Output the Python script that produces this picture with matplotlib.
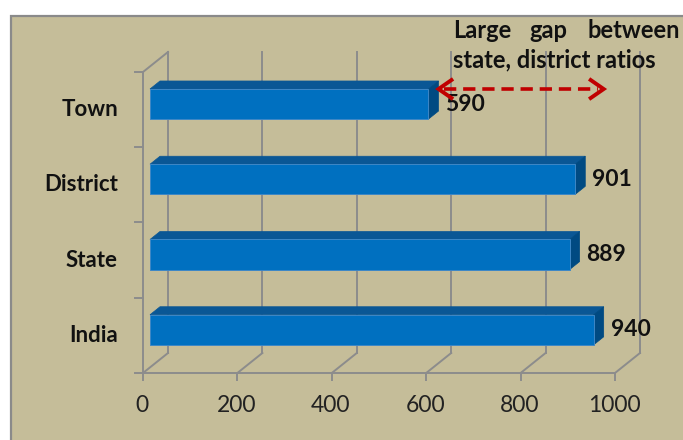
import matplotlib
matplotlib.use("Agg")
import matplotlib.pyplot as plt
import numpy as np
from matplotlib.patches import Polygon, Rectangle
from matplotlib.lines import Line2D
from matplotlib.transforms import IdentityTransform

# Sex ratio (females per 1000 males)
categories = ["India", "State", "District", "Town"]
values = [940, 889, 901, 590]
x_ticks = [0, 200, 400, 600, 800, 1000]
note_words = ["Large", "gap", "between"]
note_line2 = "state, district ratios"

W, H, DPI = 683, 440, 100
BG = "#c5bd99"
GRID = "#8c8c8c"
FRONT = "#0070c0"
TOP = "#0a5795"
SIDE = "#004a82"
FONT = ["Lato", "DejaVu Sans"]

fig = plt.figure(figsize=(W / DPI, H / DPI), dpi=DPI)
fig.patch.set_facecolor("white")
fig.add_artist(Rectangle((11 / W, -0.1), 1.2, 1.1 - 16 / H,
                         transform=fig.transFigure, facecolor=BG,
                         edgecolor="#8a8a8a", lw=1.6, zorder=0))

# front plane of the 3-D box
ax = fig.add_axes([143 / W, (H - 373) / H, 472 / W, 301 / H])
ax.set_xlim(0, 1000)
ax.set_ylim(-0.5, 3.5)
ax.axis("off")
ax.patch.set_visible(False)

DEPTH = np.array([25.0, 20.0])   # full depth of the box in pixels
F1, F2 = 0.28, 0.68              # front / back depth of the bars
HALF = 0.2                       # half bar thickness in category units


def P(x, y, f=0.0):
    return ax.transData.transform((x, y)) + f * DEPTH


def seg(p, q, **kw):
    fig.add_artist(Line2D([p[0], q[0]], [p[1], q[1]], transform=IdentityTransform(), **kw))


def poly(pts, **kw):
    fig.add_artist(Polygon(np.array(pts), closed=True, transform=IdentityTransform(), **kw))


gkw = dict(color=GRID, lw=1.4, zorder=1)
# back-wall gridlines and floor diagonals
for t in x_ticks:
    seg(P(t, -0.5, 1), P(t, 3.5, 1), **gkw)
    seg(P(t, -0.5, 0), P(t, -0.5, 1), **gkw)
    seg(P(t, -0.5, 0), P(t, -0.5, 0) + [0, -7], **gkw)
# front floor edge, left wall
seg(P(0, -0.5, 0), P(1000, -0.5, 0), **gkw)
seg(P(0, -0.5, 0), P(0, 3.5, 0), **gkw)
seg(P(0, 3.5, 0), P(0, 3.5, 1), **gkw)
for b in np.arange(-0.5, 4.0, 1.0):
    seg(P(0, b, 0), P(0, b, 0) + [-8, 0], **gkw)

# 3-D bars
for i, v in enumerate(values):
    lo, hi = i - HALF, i + HALF
    poly([P(0, hi, F1), P(v, hi, F1), P(v, hi, F2), P(0, hi, F2)],
         facecolor=TOP, edgecolor=TOP, lw=0.5, zorder=3)
    poly([P(v, lo, F1), P(v, lo, F2), P(v, hi, F2), P(v, hi, F1)],
         facecolor=SIDE, edgecolor=SIDE, lw=0.5, zorder=3)
    poly([P(0, lo, F1), P(v, lo, F1), P(v, hi, F1), P(0, hi, F1)],
         facecolor=FRONT, edgecolor="#3d87c6", lw=0.7, zorder=4)
    lx, ly = P(v, i, F1) + [17, 0]
    fig.text(lx / W, ly / H, str(v), ha="left", va="center", fontsize=16.5,
             fontweight="bold", family=FONT, color="#111111")

# category labels
for i, c in enumerate(categories):
    cx, cy = P(0, i, 0) + [-25, 0]
    fig.text(cx / W, cy / H, c, ha="right", va="center", fontsize=16,
             fontweight="bold", family=FONT, color="#111111")

# value axis labels
for t in x_ticks:
    tx, ty = P(t, -0.5, 0) + [-1, -33]
    fig.text(tx / W, ty / H, str(t), ha="center", va="center", fontsize=16.5,
             family=FONT, color="#222222")

# gap arrow between the town and national ratios
town = categories.index("Town")
india = categories.index("India")
a = P(values[town], town, F2) + [0, 7]
b = P(values[india], town, F2) + [0, 7]
RED = "#c00000"
fig.add_artist(Line2D([a[0] + 6, b[0] - 6], [a[1], a[1]], transform=IdentityTransform(),
                      color=RED, lw=2.6, linestyle=(0, (3.4, 1.9)), zorder=6))
for tip, s in ((a, 1), (b, -1)):
    fig.add_artist(Line2D([tip[0] + s * 13, tip[0], tip[0] + s * 13],
                          [tip[1] + 9, tip[1], tip[1] - 9], transform=IdentityTransform(),
                          color=RED, lw=2.8, solid_joinstyle="miter", zorder=6))

# note text
y1 = (H - 31) / H
fig.text(453 / W, y1, note_words[0], ha="left", va="center", fontsize=17,
         fontweight="bold", family=FONT, color="#111111")
fig.text(548 / W, y1, note_words[1], ha="center", va="center", fontsize=17,
         fontweight="bold", family=FONT, color="#111111")
fig.text(680 / W, y1, note_words[2], ha="right", va="center", fontsize=17,
         fontweight="bold", family=FONT, color="#111111")
fig.text(453 / W, (H - 60) / H, note_line2, ha="left", va="center", fontsize=17,
         fontweight="bold", family=FONT, color="#111111")

fig.savefig("out.png", dpi=DPI, facecolor=fig.get_facecolor())
